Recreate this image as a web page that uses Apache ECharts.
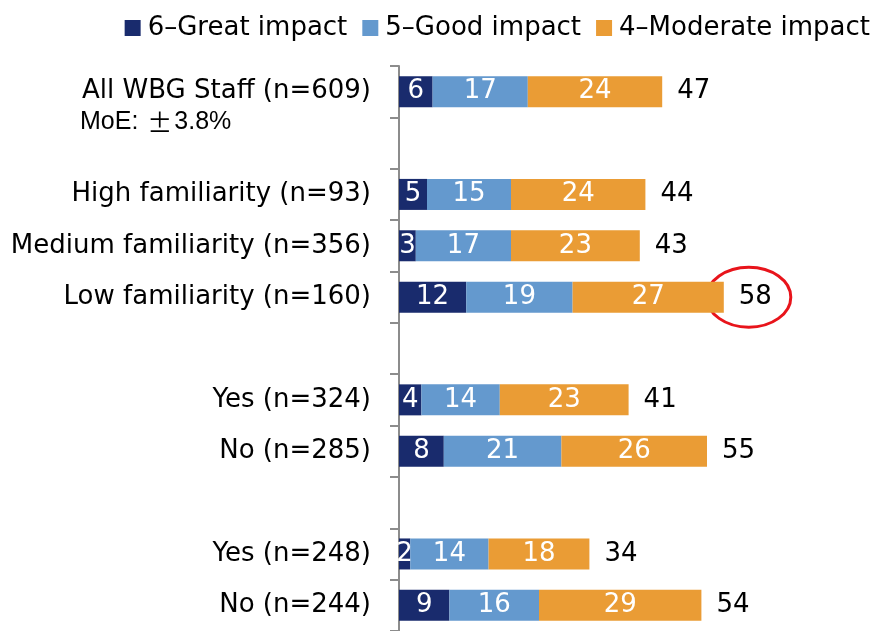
<!DOCTYPE html>
<html>
<head>
<meta charset="utf-8">
<script src="https://cdn.jsdelivr.net/npm/echarts@6/dist/echarts.min.js"></script>
<style>
  html, body { margin: 0; padding: 0; background: #fff; }
  #main { width: 877px; height: 631px; }
</style>
</head>
<body>
<div id="main"></div>
<script>
  // categories (blank names are spacer rows)
  var categories = [
    'All WBG Staff (n=609)', '',
    'High familiarity (n=93)', 'Medium familiarity (n=356)', 'Low familiarity (n=160)', '',
    'Yes (n=324)', 'No (n=285)', '',
    'Yes (n=248)', 'No (n=244)'
  ];
  var seriesNames = ['6\u2013Great impact', '5\u2013Good impact', '4\u2013Moderate impact'];
  var greatImpact    = [6, null, 5, 3, 12, null, 4, 8, null, 2, 9];
  var goodImpact     = [17, null, 15, 17, 19, null, 14, 21, null, 14, 16];
  var moderateImpact = [24, null, 24, 23, 27, null, 23, 26, null, 18, 29];
  var totals         = [47, null, 44, 43, 58, null, 41, 55, null, 34, 54];

  var colors = ['#192b6d', '#6499ce', '#ea9c35'];
  var font = 'DejaVu Sans';

  var chart = echarts.init(document.getElementById('main'));

  function stackSeries(name, data, color) {
    return {
      name: name,
      type: 'bar',
      stack: 'impact',
      barWidth: 31,
      data: data,
      itemStyle: { color: color },
      label: {
        show: true,
        position: 'inside',
        color: '#fff',
        fontFamily: font,
        fontSize: 26
      },
      silent: true
    };
  }

  var option = {
    animation: false,
    legend: {
      data: seriesNames,
      right: 2,
      top: 10,
      icon: 'rect',
      itemWidth: 16,
      itemHeight: 16,
      itemGap: 15,
      textStyle: { fontFamily: font, fontSize: 26, color: '#000', padding: [0, 0, 0, 2] }
    },
    grid: { left: 399, top: 66, width: 476, height: 566 },
    xAxis: {
      type: 'value',
      min: 0,
      max: 85,
      show: false
    },
    yAxis: {
      type: 'category',
      inverse: true,
      data: categories,
      axisLine: { show: true, lineStyle: { color: '#8c8c8c', width: 2 } },
      axisTick: { show: true, length: 9, lineStyle: { color: '#8c8c8c', width: 2 } },
      axisLabel: { fontFamily: font, fontSize: 26, color: '#000', margin: 28 }
    },
    series: [
      stackSeries(seriesNames[0], greatImpact, colors[0]),
      stackSeries(seriesNames[1], goodImpact, colors[1]),
      stackSeries(seriesNames[2], moderateImpact, colors[2]),
      {
        name: 'total',
        type: 'bar',
        barWidth: 31,
        barGap: '-100%',
        data: totals,
        itemStyle: { color: 'rgba(0,0,0,0)' },
        label: {
          show: true,
          position: 'right',
          distance: 15,
          color: '#000',
          fontFamily: font,
          fontSize: 26
        },
        z: 1,
        silent: true
      }
    ]
  };
  chart.setOption(option);

  // annotations: MoE note under first row, red ellipse round the low-familiarity total
  var first = chart.convertToPixel({ gridIndex: 0 }, [0, categories[0]]);
  var low = chart.convertToPixel({ gridIndex: 0 }, [totals[4], categories[4]]);
  chart.setOption({
    graphic: [
      {
        type: 'text',
        left: 80,
        top: first[1] + 18,
        style: {
          text: '{a|MoE: }{b|\u00b1}{a|3.8%}',
          rich: {
            a: { fontFamily: 'Liberation Sans', fontSize: 25, fill: '#000' },
            b: { fontFamily: 'Noto Sans CJK SC', fontSize: 25, fill: '#000', padding: [0, 2, 0, 2] }
          }
        }
      },
      {
        type: 'ellipse',
        shape: { cx: low[0] + 25, cy: low[1], rx: 42, ry: 30 },
        style: { fill: 'none', stroke: '#e8141b', lineWidth: 3 }
      }
    ]
  });
</script>
</body>
</html>
